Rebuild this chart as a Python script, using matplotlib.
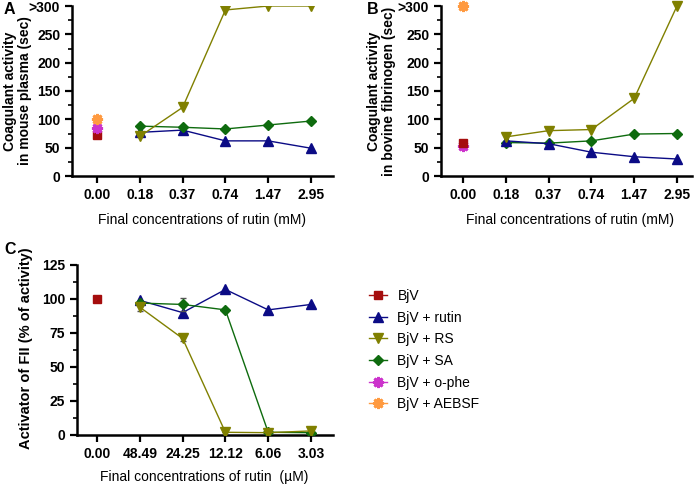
import matplotlib
matplotlib.use("Agg")
import matplotlib.pyplot as plt
from matplotlib.ticker import MultipleLocator, FixedLocator
from matplotlib.lines import Line2D

plt.rcParams['font.family'] = ['Liberation Sans', 'DejaVu Sans']

# ---------------- data ----------------
mm_labels = ["0.00", "0.18", "0.37", "0.74", "1.47", "2.95"]
um_labels = ["0.00", "48.49", "24.25", "12.12", "6.06", "3.03"]

# Panel A: mouse plasma (sec)
a_bjv = 72
a_ophe = 85
a_aebsf = 100
a_rutin = [77, 81, 62, 62, 49]
a_rs = [70, 121, 293, 300, 300]
a_sa = [88, 86, 83, 90, 97]

# Panel B: bovine fibrinogen (sec)
b_bjv = 59
b_ophe = 53
b_aebsf = 300
b_rutin = [62, 57, 42, 34, 30]
b_rs = [69, 80, 82, 137, 300]
b_sa = [59, 58, 62, 74, 75]

# Panel C: activator of FII (% activity)
c_bjv = 100
c_rutin = [99, 90, 107, 92, 96]
c_rs = [94, 71, 2, 1.7, 3]
c_sa = [97, 96, 92, 2, 1.7]
c_rs_err = [3, 2, 0, 0, 0]
c_sa_err = [1, 5, 0, 0, 0]

series_names = ["BjV", "BjV + rutin", "BjV + RS", "BjV + SA", "BjV + o-phe", "BjV + AEBSF"]
colors = {"bjv": "#A50D0D", "rutin": "#0B0B85", "rs": "#808000",
          "sa": "#0E6B0E", "ophe": "#CC33CC", "aebsf": "#FF9A40"}

W, H = 699, 488
fig = plt.figure(figsize=(W / 100, H / 100), dpi=100)

SP = 42.8  # px per category
TICK_FS = 10
XLAB_FS = 10


def make_ax(left_px, zero_px, right_px, top_px, bottom_px):
    xmin = -(zero_px - left_px) / SP
    xmax = (right_px - zero_px) / SP
    ax = fig.add_axes([left_px / W, 1 - bottom_px / H,
                       (right_px - left_px) / W, (bottom_px - top_px) / H])
    ax.set_xlim(xmin, xmax)
    for s in ["top", "right"]:
        ax.spines[s].set_visible(False)
    for s in ["left", "bottom"]:
        ax.spines[s].set_linewidth(1.8)
    ax.tick_params(axis='both', which='major', length=5, width=1.6, labelsize=TICK_FS, direction='out')
    ax.tick_params(axis='y', which='minor', length=3, width=1.2)
    return ax


def style_ticks(ax):
    for lab in ax.get_xticklabels() + ax.get_yticklabels():
        lab.set_fontweight('bold')
        lab.set_fontsize(TICK_FS)


xs = [1, 2, 3, 4, 5]
lw = 1.0


def plot_series(ax, y, color, marker, ms, err=None):
    if err is not None:
        ax.errorbar(xs, y, yerr=err, color=color, ecolor="#555555", elinewidth=0.8,
                    capsize=2, lw=lw, marker=marker, ms=ms, mec=color, mfc=color, zorder=3)
    else:
        ax.plot(xs, y, color=color, lw=lw, marker=marker, ms=ms, mec=color, mfc=color, zorder=3)


def ylabel_at(x_px, y_px, text, fs):
    fig.text(x_px / W, 1 - y_px / H, text, rotation=90, ha='center', va='center',
             fontsize=fs, fontweight='bold')


def xlabel_at(x_px, y_px, text):
    fig.text(x_px / W, 1 - y_px / H, text, ha='center', va='center', fontsize=XLAB_FS)


# ---------- Panel A ----------
axA = make_ax(72, 97, 333, 6, 176)
axA.set_ylim(0, 300)
axA.yaxis.set_major_locator(FixedLocator([0, 50, 100, 150, 200, 250, 300]))
axA.yaxis.set_minor_locator(MultipleLocator(25))
axA.set_yticklabels(["0", "50", "100", "150", "200", "250", ">300"])
axA.set_xticks(range(6))
axA.set_xticklabels(mm_labels)
plot_series(axA, a_rutin, colors["rutin"], "^", 7)
plot_series(axA, a_sa, colors["sa"], "D", 5)
plot_series(axA, a_rs, colors["rs"], "v", 7)
axA.plot([0], [a_bjv], marker="s", color=colors["bjv"], ms=6, ls="none")
axA.plot([0], [a_ophe], marker=(8, 2, 0), color=colors["ophe"], ms=8, mew=2, ls="none")
axA.errorbar([0], [a_aebsf], yerr=[3], marker=(8, 2, 0), color=colors["aebsf"], ecolor="#333333",
             elinewidth=0.8, capsize=2, ms=8, mew=2, ls="none")
style_ticks(axA)
ylabel_at(10, 91, "Coagulant activity", 10)
ylabel_at(25.5, 91, "in mouse plasma (sec)", 10)
xlabel_at(202, 220, "Final concentrations of rutin (mM)")
fig.text(4 / W, 1 - 10 / H, "A", fontsize=11.5, fontweight='bold', va='center', ha='left')

# ---------- Panel B ----------
axB = make_ax(441, 463, 692, 6, 176)
axB.set_ylim(0, 300)
axB.yaxis.set_major_locator(FixedLocator([0, 50, 100, 150, 200, 250, 300]))
axB.yaxis.set_minor_locator(MultipleLocator(25))
axB.set_yticklabels(["0", "50", "100", "150", "200", "250", ">300"])
axB.set_xticks(range(6))
axB.set_xticklabels(mm_labels)
plot_series(axB, b_sa, colors["sa"], "D", 5)
plot_series(axB, b_rutin, colors["rutin"], "^", 7)
plot_series(axB, b_rs, colors["rs"], "v", 7)
axB.plot([0], [b_ophe], marker=(8, 2, 0), color=colors["ophe"], ms=8, mew=2, ls="none")
axB.plot([0], [b_bjv], marker="s", color=colors["bjv"], ms=6, ls="none")
axB.plot([0], [b_aebsf], marker=(8, 2, 0), color=colors["aebsf"], ms=8, mew=2, ls="none", clip_on=False)
for ln in axB.lines:
    ln.set_clip_on(False)
style_ticks(axB)
ylabel_at(374, 91, "Coagulant activity", 10)
ylabel_at(389.5, 91, "in bovine fibrinogen (sec)", 10)
xlabel_at(570, 220, "Final concentrations of rutin (mM)")
fig.text(367 / W, 1 - 10 / H, "B", fontsize=11.5, fontweight='bold', va='center', ha='left')

# ---------- Panel C ----------
axC = make_ax(77, 97, 333, 265, 435)
axC.set_ylim(0, 125)
axC.yaxis.set_major_locator(MultipleLocator(25))
axC.yaxis.set_minor_locator(MultipleLocator(12.5))
axC.set_xticks(range(6))
axC.set_xticklabels(um_labels)
plot_series(axC, c_rutin, colors["rutin"], "^", 7)
plot_series(axC, c_sa, colors["sa"], "D", 5, err=c_sa_err)
plot_series(axC, c_rs, colors["rs"], "v", 7, err=c_rs_err)
axC.errorbar([0], [c_bjv], yerr=[2], marker="s", color=colors["bjv"], ecolor="#333333",
             elinewidth=0.8, capsize=2, ms=6, ls="none")
style_ticks(axC)
ylabel_at(26, 348, "Activator of FII (% of activity)", 10.5)
xlabel_at(204, 477, "Final concentrations of rutin  (µM)")
fig.text(4 / W, 1 - 250 / H, "C", fontsize=11.5, fontweight='bold', va='center', ha='left')

# ---------- Legend ----------
handles = [
    Line2D([], [], color=colors["bjv"], marker="s", ms=6, lw=lw),
    Line2D([], [], color=colors["rutin"], marker="^", ms=7, lw=lw),
    Line2D([], [], color=colors["rs"], marker="v", ms=7, lw=lw),
    Line2D([], [], color=colors["sa"], marker="D", ms=5, lw=lw),
    Line2D([], [], color=colors["ophe"], marker=(8, 2, 0), ms=8, mew=2, lw=lw),
    Line2D([], [], color=colors["aebsf"], marker=(8, 2, 0), ms=8, mew=2, lw=lw),
]
fig.legend(handles, series_names, loc="upper left", bbox_to_anchor=(369 / W, 1 - 289 / H),
           frameon=False, fontsize=10, handlelength=1.3, handletextpad=0.75, labelspacing=0.55,
           borderpad=0, borderaxespad=0)

fig.savefig("out.png", dpi=100)
